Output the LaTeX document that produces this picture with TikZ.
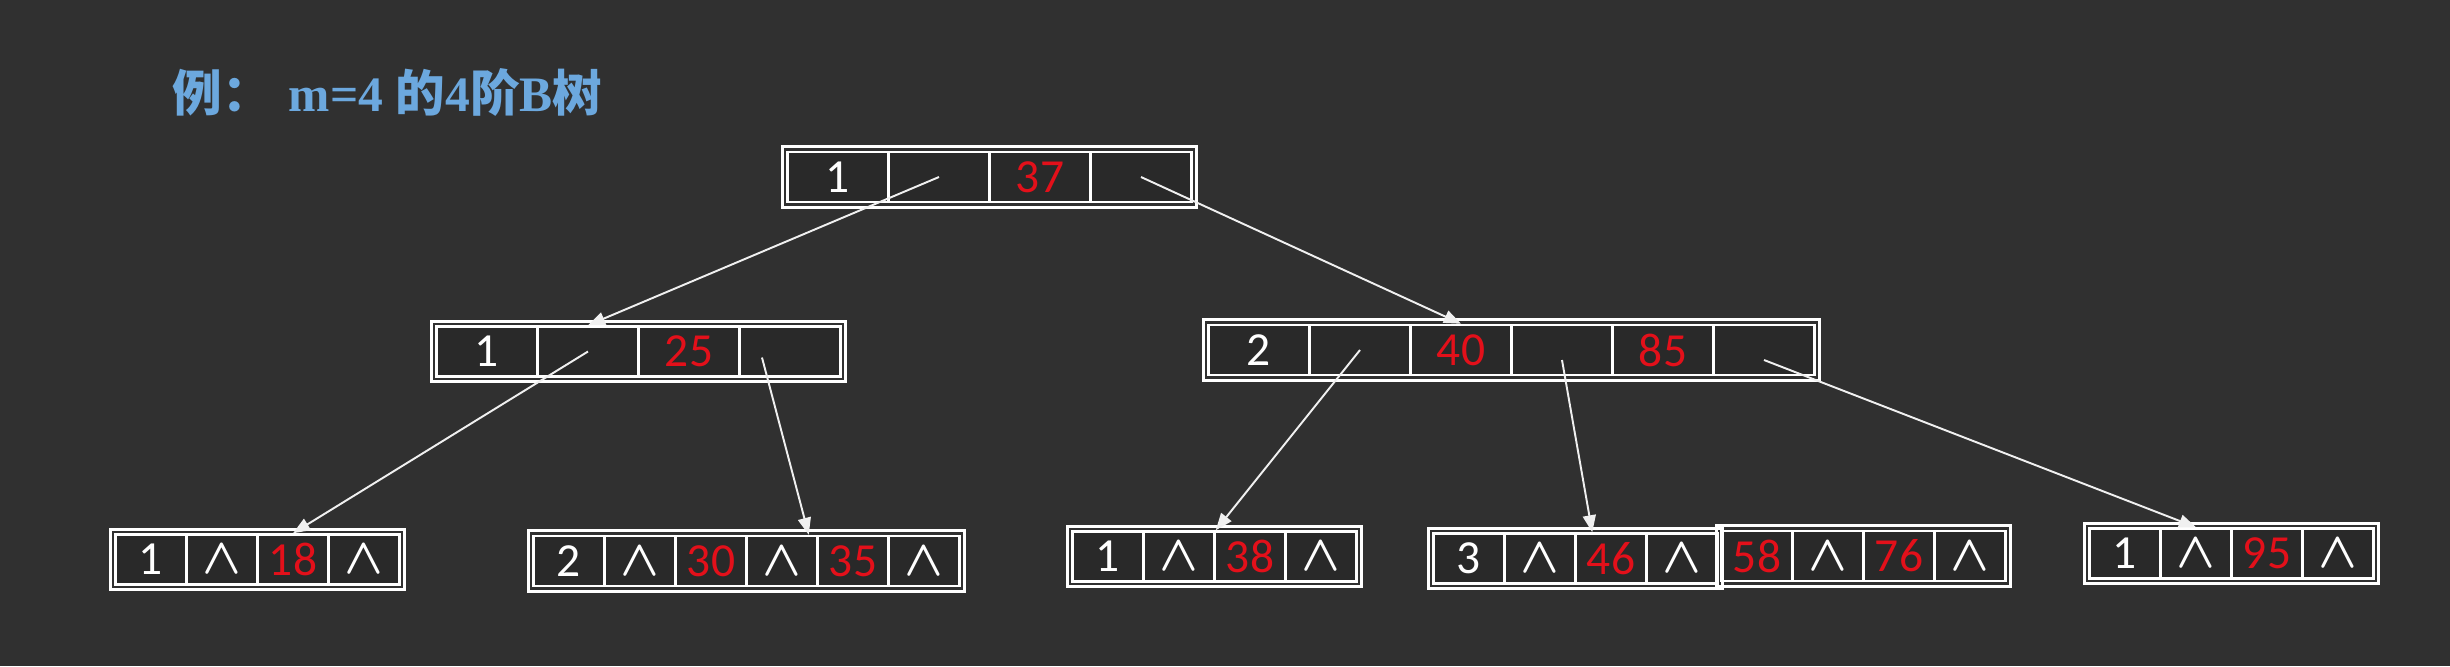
\documentclass[tikz,border=0pt]{standalone}
\usepackage{fontspec}
\setmainfont{Liberation Serif}
\newfontfamily\cifras{Carlito}
\newfontfamily\cjk{Noto Sans CJK SC Bold}
\usepackage{xcolor}
\usepackage{tikz}
\usetikzlibrary{arrows.meta, positioning, calc, fit}
\definecolor{pizarra}{HTML}{303030}
\definecolor{clave}{HTML}{E3101A}
\definecolor{titulo}{HTML}{6CA8DE}
\newcommand{\clv}[1]{\textcolor{clave}{#1}}
\DeclareRobustCommand{\nulo}{\mbox{\mathversion{bold}$\wedge$}}
\newcommand{\nodoB}[6]{%
  \foreach \t [count=\i] in {#6} {
    \node[#2] (#1-\i) at ({#3+(\i-1)*#5},#4) {\t};
  }%
}

\begin{document}
\begin{tikzpicture}[x=0.01cm, y=-0.01cm,
    celdaI/.style={draw=white, line width=0.7pt, fill=black!84, minimum width=1.01cm,
      minimum height=0.5cm, inner sep=0pt, text=white, font=\cifras\fontsize{13.5}{16}\selectfont},
    celdaH/.style={celdaI, minimum width=0.71cm},
    marco/.style={draw=white, line width=0.8pt, inner sep=0.04cm},
    flecha/.style={draw=gray!12, line width=0.55pt, -{Triangle[length=0.17cm, width=0.13cm]}}]
        \fill[pizarra] (0,0) rectangle (2450,666);
        \node[anchor=west, text=titulo, font=\bfseries\fontsize{14.1}{17}\selectfont] (cabecera) at (160,92)
          {{\cjk 例：}\hspace{0.35em}m=4 {\cjk 的}4{\cjk 阶}B{\cjk 树}};
        \nodoB{raiz}{celdaI}{838}{177}{101}{1,{},\clv{37},{}}
        \nodoB{izq}{celdaI}{487}{351.5}{101}{1,{},\clv{25},{}}
        \nodoB{der}{celdaI}{1259}{350}{101}{2,{},\clv{40},{},\clv{85},{}}
        \nodoB{h1}{celdaH}{151}{559.5}{71}{1,\nulo,\clv{18},\nulo}
        \nodoB{h2}{celdaH}{569}{561}{71}{2,\nulo,\clv{30},\nulo,\clv{35},\nulo}
        \nodoB{h3}{celdaH}{1108}{556.5}{71}{1,\nulo,\clv{38},\nulo}
        \nodoB{h4}{celdaH}{1469}{558.5}{71}{3,\nulo,\clv{46},\nulo}
        \nodoB{h4b}{celdaH}{1757}{556}{71}{\clv{58},\nulo,\clv{76},\nulo}
        \nodoB{h5}{celdaH}{2125}{553.5}{71}{1,\nulo,\clv{95},\nulo}
        \node[marco, fit=(raiz-1)(raiz-4)] (raiz) {};
        \node[marco, fit=(izq-1)(izq-4)] (izq) {};
        \node[marco, fit=(der-1)(der-6)] (der) {};
        \node[marco, fit=(h1-1)(h1-4)] (h1) {};
        \node[marco, fit=(h2-1)(h2-6)] (h2) {};
        \node[marco, fit=(h3-1)(h3-4)] (h3) {};
        \node[marco, fit=(h4-1)(h4-4)] (h4) {};
        \node[marco, fit=(h4b-1)(h4b-4)] (h4b) {};
        \node[marco, fit=(h5-1)(h5-4)] (h5) {};
        \draw[flecha] (raiz-2.center) -- (izq-2.north);
        \draw[flecha] (raiz-4.center) -- (der-3.north);
        \draw[flecha] (izq-2.center) -- (h1-3.north);
        \draw[flecha] ([xshift=-0.28cm, yshift=-0.06cm]izq-4.center) -- ([xshift=-0.1cm]h2-4.north east);
        \draw[flecha] (der-2.center) -- (h3-2.north east);
        \draw[flecha] ([yshift=-0.1cm]der-4.center) -- ([xshift=0.18cm]h4-3.north west);
        \draw[flecha] ([yshift=-0.1cm]der-6.center) -- (h5-2.north);
\end{tikzpicture}
\end{document}
